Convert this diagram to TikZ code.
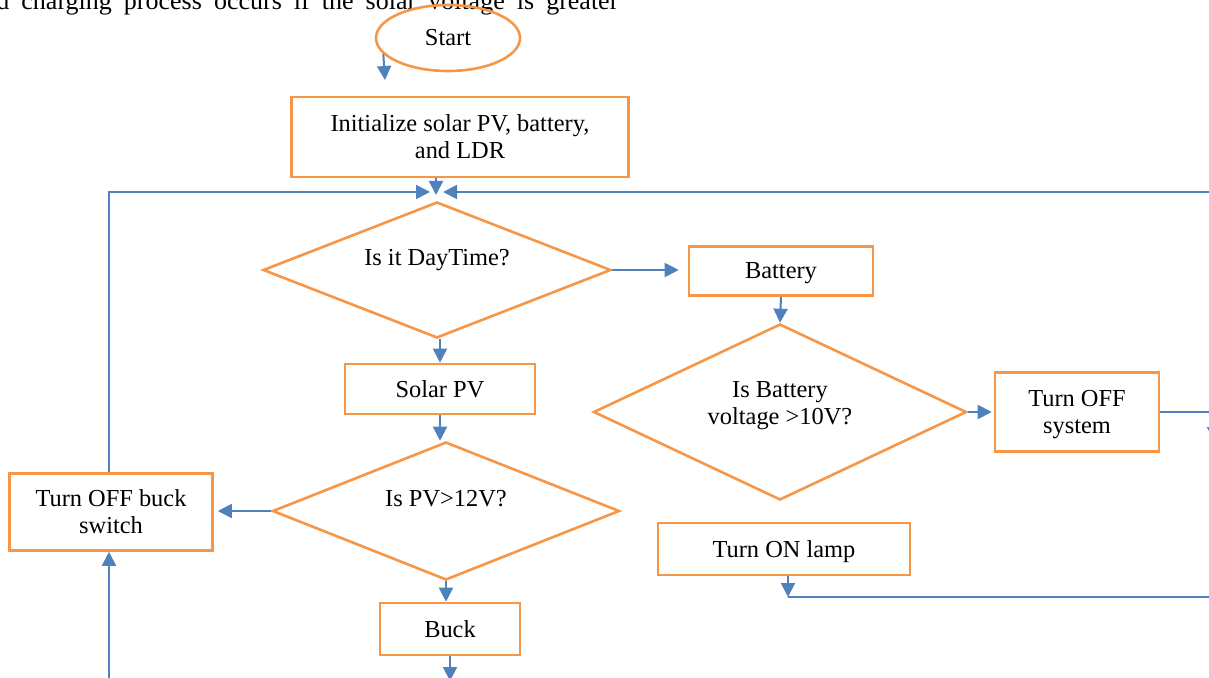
\documentclass[tikz,border=0pt]{standalone}
\usepackage{fontspec}
\setmainfont{Liberation Serif}
\usetikzlibrary{arrows.meta, positioning, shapes.geometric}
\definecolor{boxorange}{HTML}{F79646}
\definecolor{lineblue}{HTML}{4F81BD}
\newcommand{\flowfont}{\fontsize{12.2pt}{13.5pt}\selectfont}
\tikzset{every node/.style={font=\flowfont},
         process/.style={draw=boxorange,line width=1.3pt,rectangle,inner sep=0pt,align=center,text depth=0pt},
         decision/.style={draw=boxorange,line width=1.3pt,diamond,inner sep=0pt},
         terminal/.style={draw=boxorange,line width=1.3pt,ellipse,inner sep=0pt},
         flow/.style={draw=lineblue,line width=1pt,-{Triangle[length=7pt,width=7pt]}},
         wire/.style={draw=lineblue,line width=1pt}}

\begin{document}
\begin{tikzpicture}[x=0.5pt,y=-0.5pt]
\useasboundingbox (0,0) rectangle (1209,678);
\clip (0,0) rectangle (1209,678);
\node[anchor=base west,inner sep=0pt,font=\fontsize{13pt}{15pt}\selectfont] (intro) at (-4,10)
    {\makebox[311pt][s]{d charging process occurs if the solar voltage is greater}};
\node[terminal,minimum width=72pt,minimum height=33pt] (start) at (448,38) {Start};
\node[process,minimum width=168.5pt,minimum height=40pt] (init) at (460,137)
    {Initialize solar PV, battery,\\and LDR};
\node[decision,minimum width=174pt,minimum height=68pt,
      label={[yshift=5pt]center:Is it DayTime?}] (day) at (437,270) {};
\node[process,minimum width=92pt,minimum height=24.5pt] (batt) at (781,271) {Battery};
\node[decision,minimum width=186.5pt,minimum height=88pt,
      label={[yshift=3pt,align=center]center:{Is Battery\\voltage >10V?}}] (bvolt) at (780,412) {};
\node[process,minimum width=82pt,minimum height=39.5pt] (offsys) at (1077,412) {Turn OFF\\system};
\node[process,minimum width=95pt,minimum height=25pt] (solar) at (440,389) {Solar PV};
\node[decision,minimum width=173.5pt,minimum height=69pt,
      label={[yshift=6pt]center:Is PV>12V?}] (pv) at (446,511) {};
\node[process,minimum width=101.5pt,minimum height=38.5pt] (offbuck) at (111,512) {Turn OFF buck\\switch};
\node[process,minimum width=70pt,minimum height=26pt] (buck) at (450,629) {Buck};
\node[process,minimum width=126pt,minimum height=26pt] (lamp) at (784,549) {Turn ON lamp};

\coordinate (startout) at (385,80);
\coordinate (join) at (436,192);
\coordinate (rightin) at (1215,192);
\coordinate (sysout) at (1214,412);
\coordinate (sysdown) at (1214,441);
\coordinate (loopx) at (109,681);
\coordinate (buckout) at (450,681);
\coordinate (lampline) at (788,597);
\coordinate (lampend) at (1215,597);

\draw[flow] (start.194) -- (startout);
\draw[flow] (init.south -| join) -- ([yshift=-1.5pt]join);
\draw[flow] (offbuck.north -| loopx) |- ([xshift=-3pt]join);
\draw[flow] (rightin) -- ([xshift=3.5pt]join);
\draw[flow,shorten >=4.5pt] (day.east) -- (day.east -| batt.west);
\draw[flow] (batt.south) -- (bvolt.north);
\draw[flow,shorten >=1pt] (bvolt.east) -- (offsys.west);
\draw[wire] (offsys.east) -- (sysout);
\draw[flow] (sysout) -- (sysdown);
\draw[flow] (day.south -| solar.north) -- (solar.north);
\draw[flow] (solar.south) -- (solar.south |- pv.north);
\draw[flow,shorten >=2pt] (pv.west) -- (pv.west -| offbuck.east);
\draw[flow] (pv.south) -- (pv.south |- buck.north);
\draw[flow] (buck.south) -- (buckout);
\draw[flow] (loopx) -- (offbuck.south -| loopx);
\draw[flow] (lamp.south -| lampline) -- (lampline);
\draw[wire] (lampline) -- (lampend);
\end{tikzpicture}
\end{document}
